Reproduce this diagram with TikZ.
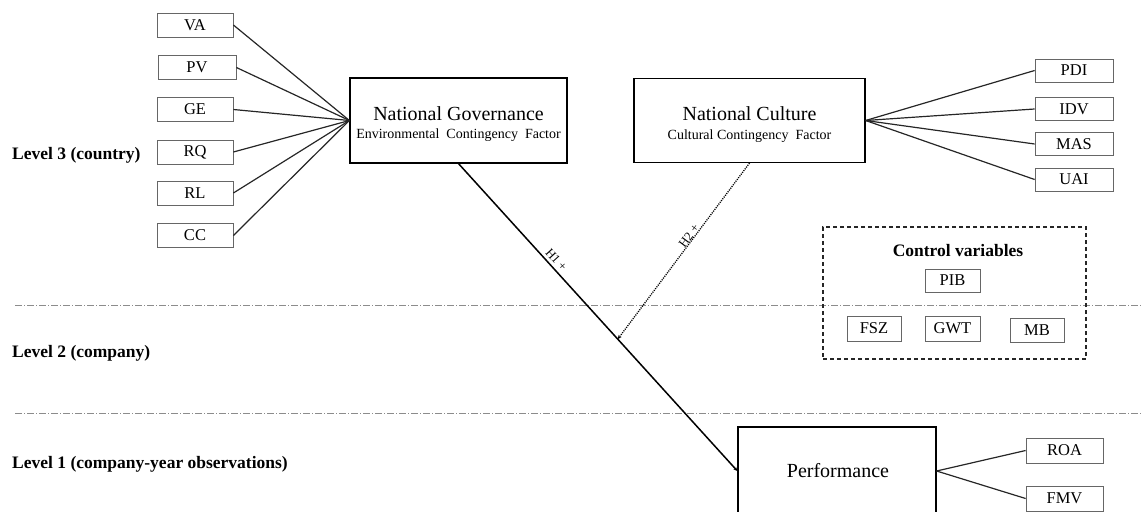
\documentclass[tikz,border=0pt]{standalone}
\usepackage{fontspec}
\setmainfont{Liberation Serif}
\usetikzlibrary{arrows.meta,calc}
\newcommand\setfs[1]{\fontsize{#1}{#1}\selectfont}
\begin{document}
\begin{tikzpicture}[x=1pt,y=-1pt,
  sbox/.style={draw=black!60, line width=0.8pt, minimum width=76pt, minimum height=24pt, inner sep=0pt, font=\setfs{16.5}},
  cbox/.style={sbox, minimum width=55pt},
  bigbox/.style={draw=black, line width=1.2pt, inner sep=0pt},
  maintxt/.style={anchor=base, inner sep=0pt, font=\setfs{20}},
  subtxt/.style={anchor=base, inner sep=0pt, font=\setfs{14}},
  link/.style={line width=1.2pt, draw=black!85},
  lvl/.style={anchor=base west, inner sep=0pt, font=\setfs{17.5}\bfseries},
  sep/.style={draw=black!45, line width=0.6pt, dash pattern=on 7pt off 2pt on 1pt off 2pt},
  hyp/.style={inner sep=0pt, font=\setfs{12.5}},
  tip/.style={-{Stealth[length=4pt,width=3.5pt]}}
]
\useasboundingbox (0,0) rectangle (1142,511);
\clip (0,0) rectangle (1142,511);

% level separators
\coordinate (s1a) at (15,305);  \coordinate (s1b) at (1142,305);
\coordinate (s2a) at (15,413);  \coordinate (s2b) at (1142,413);
\draw[sep] (s1a) -- (s1b);
\draw[sep] (s2a) -- (s2b);

% level labels
\node[lvl] (l3) at (12,159) {Level 3 (country)};
\node[lvl] (l2) at (12,357) {Level 2 (company)};
\node[lvl] (l1) at (12,468) {Level 1 (company-year observations)};

% main boxes
\node[bigbox, minimum width=217pt, minimum height=85pt] (ng) at (458.5,120.5) {};
\node[maintxt] (ngt) at (458.5,120) {National Governance};
\node[subtxt] (ngs) at (458.5,138.5) {Environmental\ \ Contingency\ \ Factor};

\node[bigbox, minimum width=231pt, minimum height=84pt] (nc) at (749.5,120.5) {};
\node[maintxt] (nct) at (749.5,120) {National Culture};
\node[subtxt] (ncs) at (749.5,139) {Cultural Contingency\ \ Factor};

\node[bigbox, minimum width=198pt, minimum height=88pt] (perf) at (837,471) {};
\node[maintxt] (perft) at (838,477) {Performance};

% governance indicators
\node[sbox] (va) at (195,25) {VA};
\node[sbox, minimum width=78pt] (pv) at (197,67.5) {PV};
\node[sbox] (ge) at (195,109.5) {GE};
\node[sbox] (rq) at (195,152) {RQ};
\node[sbox] (rl) at (195,193) {RL};
\node[sbox] (cc) at (195,235.5) {CC};
\foreach \n in {va,pv,ge,rq,rl,cc} \draw[link] (\n.east) -- (ng.west);

% culture indicators
\node[sbox, minimum width=78pt, minimum height=23pt] (pdi) at (1074,70.5) {PDI};
\node[sbox, minimum width=78pt, minimum height=23pt] (idv) at (1074,109) {IDV};
\node[sbox, minimum width=78pt, minimum height=23pt] (mas) at (1074,144) {MAS};
\node[sbox, minimum width=78pt, minimum height=23pt] (uai) at (1074,179.5) {UAI};
\foreach \n in {pdi,idv,mas,uai} \draw[link] (nc.east) -- (\n.west);

% performance indicators
\node[sbox, minimum width=77pt, minimum height=25pt] (roa) at (1064.5,450.5) {ROA};
\node[sbox, minimum width=77pt, minimum height=25pt] (fmv) at (1064.5,498.5) {FMV};
\draw[link] (perf.east) -- (roa.west);
\draw[link] (perf.east) -- (fmv.west);

% control variables
\node[draw=black!85, line width=1.2pt, dash pattern=on 4pt off 3pt, minimum width=263pt, minimum height=132pt, inner sep=0pt] (ctrl) at (954.5,293) {};
\node[anchor=base, inner sep=0pt, font=\setfs{17.5}\bfseries] (ctrlt) at (958,256.5) {Control variables};
\node[cbox, minimum height=23pt] (pib) at (952.5,280.5) {PIB};
\node[cbox, minimum width=54pt, minimum height=25pt] (fsz) at (874,328.5) {FSZ};
\node[cbox, minimum height=25pt] (gwt) at (952.5,328.5) {GWT};
\node[cbox, minimum width=54pt, minimum height=24pt] (mb) at (1037,330) {MB};

% hypotheses
\draw[line width=1.5pt, tip] (ng.south) -- node[hyp, sloped, pos=0.33, above=3pt] (h1) {H1 +} (perf.west);
\coordinate (h2end) at ($(ng.south)!0.571!(perf.west)$);
\draw[line width=1.3pt, dash pattern=on 1.1pt off 1.1pt, tip] (nc.south) -- node[hyp, sloped, pos=0.43, above=0pt] (h2) {H2 +} (h2end);
\end{tikzpicture}
\end{document}
